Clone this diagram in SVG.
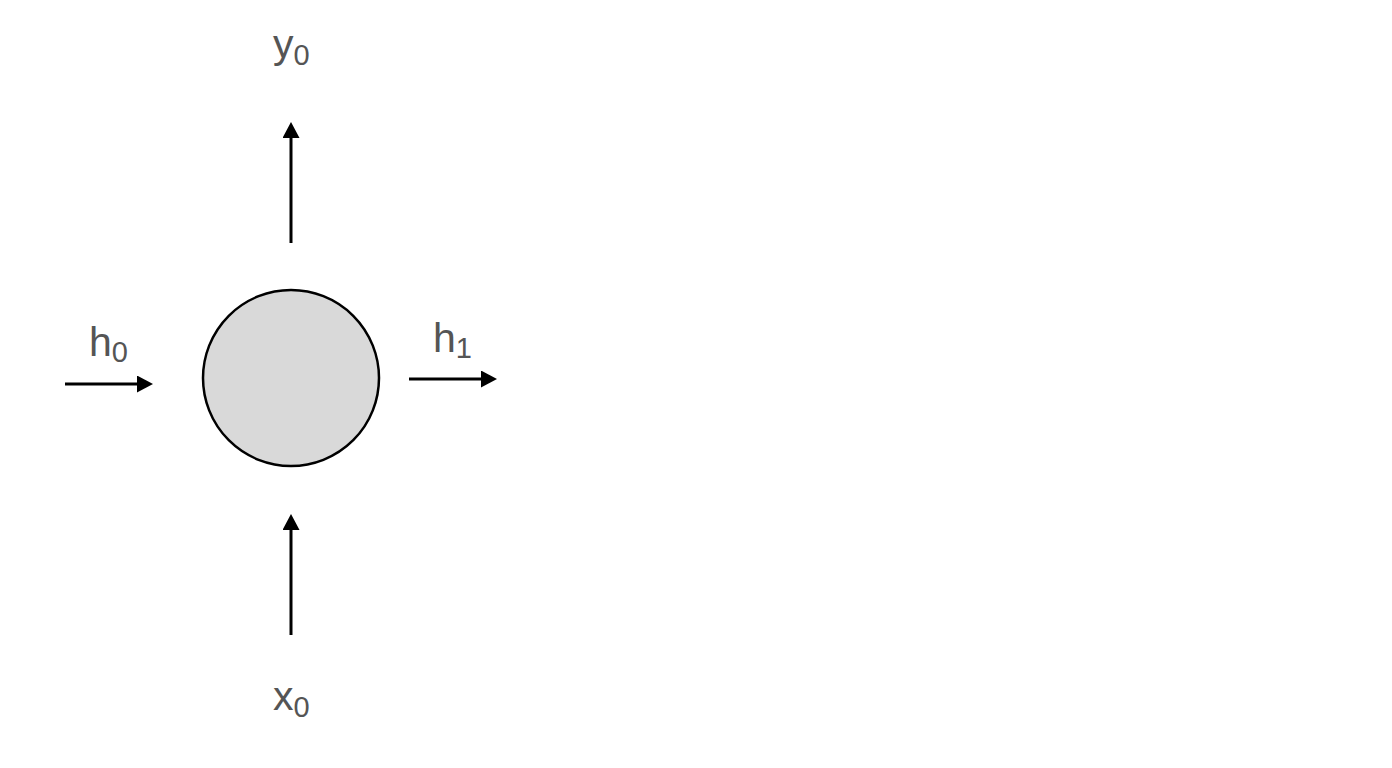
<svg xmlns="http://www.w3.org/2000/svg" width="1392" height="768" viewBox="0 0 1392 768">
<defs>
<style>
.lbl{font-family:"Liberation Sans",Arial,sans-serif;font-size:41px;fill:#555555}
.sub{font-size:29px}
.edge{stroke:#000;stroke-width:3;fill:none;marker-end:url(#ah)}
</style>
<marker id="ah" viewBox="0 0 16 17" refX="4" refY="8.5" markerWidth="16" markerHeight="17" markerUnits="userSpaceOnUse" orient="auto">
<path d="M0,0 L16,8.5 L0,17 Z" fill="#000"/>
</marker>
</defs>
<rect width="1392" height="768" fill="#ffffff"/>
<g id="connectors">
<line class="edge" x1="291" y1="243" x2="291" y2="134"/>
<line class="edge" x1="291" y1="635" x2="291" y2="526"/>
<line class="edge" x1="65" y1="384" x2="141" y2="384"/>
<line class="edge" x1="409" y1="379" x2="485" y2="379"/>
</g>
<g id="cell">
<circle cx="291" cy="378" r="88" fill="#d9d9d9" stroke="#000" stroke-width="2.5"/>
</g>
<g id="y0"><text class="lbl" x="273" y="58">y<tspan class="sub" dy="7">0</tspan></text></g>
<g id="x0"><text class="lbl" x="273" y="710">x<tspan class="sub" dy="7">0</tspan></text></g>
<g id="h0"><text class="lbl" x="89" y="356">h<tspan class="sub" dy="6">0</tspan></text></g>
<g id="h1"><text class="lbl" x="433" y="352">h<tspan class="sub" dy="6">1</tspan></text></g>
</svg>
